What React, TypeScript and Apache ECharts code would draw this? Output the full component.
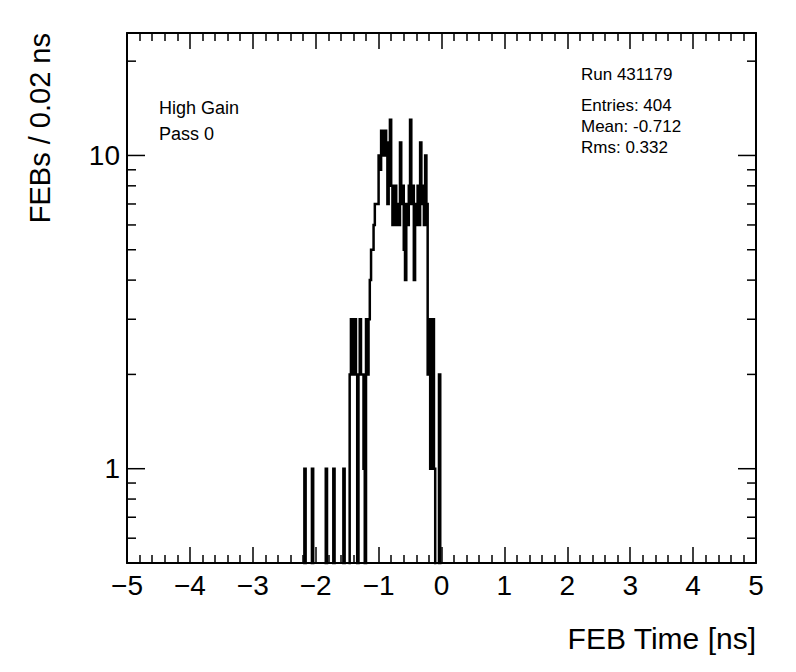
import React, { useEffect, useRef } from 'react';
import * as echarts from 'echarts';

// ---- data ----
const X_MIN = -5;
const X_MAX = 5;
const X_INTERVAL = 1;
const Y_MIN = 0.5;
const Y_MAX = 24.6;
const BIN_WIDTH = 0.02;
const FIRST_BIN_EDGE = -2.2;
// FEB counts per 0.02 ns bin, starting at FIRST_BIN_EDGE
const counts = [
  0, 1, 0, 0, 0, 0, 0, 1, 0, 0,
  0, 0, 0, 0, 0, 0, 0, 0, 1, 0,
  0, 0, 0, 0, 1, 0, 0, 0, 0, 0,
  0, 0, 1, 0, 0, 0, 0,
  2, 3, 3, 2, 3, 2, 0, 2, 3, 2, 2, 1, 0, 3, 2, 3,
  4, 5, 5, 6, 7, 7, 7,
  10, 9, 12, 11, 10, 12, 10, 7, 11, 13,
  8, 6, 7, 8, 6, 7, 6, 11, 7, 8,
  5, 4, 7, 6, 8, 13, 7, 8, 4, 7,
  6, 8, 6, 11, 7, 8, 6, 10, 7,
  2, 3, 1, 3, 3, 1, 0, 0, 0, 2, 0,
];
const yMajorTicks = [1, 10];
const yMinorTicks = [0.6, 0.7, 0.8, 0.9, 2, 3, 4, 5, 6, 7, 8, 9, 20];
const xTitle = 'FEB Time [ns]';
const yTitle = 'FEBs / 0.02 ns';
const infoLines = ['High Gain', 'Pass 0'];
const runLine = 'Run 431179';
const statsLines = ['Entries: 404', 'Mean: -0.712', 'Rms: 0.332'];

const FONT = 'Liberation Sans, Arial, Helvetica, sans-serif';
const ZERO = 0.01; // empty bins drawn below the visible log range

function buildSteps(): number[][] {
  const pts: number[][] = [];
  pts.push([FIRST_BIN_EDGE, ZERO]);
  counts.forEach((c, i) => {
    const xl = +(FIRST_BIN_EDGE + i * BIN_WIDTH).toFixed(4);
    const xr = +(xl + BIN_WIDTH).toFixed(4);
    const v = c > 0 ? c : ZERO;
    pts.push([xl, v], [xr, v]);
  });
  pts.push([+(FIRST_BIN_EDGE + counts.length * BIN_WIDTH).toFixed(4), ZERO]);
  return pts;
}

const xFmt = (v: number) => (v < 0 ? '\u2212' + Math.abs(v) : String(v));
const yFmt = (v: number) => {
  for (const t of yMajorTicks) if (Math.abs(v - t) < 1e-6 * t) return String(t);
  return '';
};

export default function App() {
  const ref = useRef<HTMLDivElement>(null);
  useEffect(() => {
    document.body.style.margin = '0';
    const chart = echarts.init(ref.current!, null, { renderer: 'svg' });
    const tickData = [
      ...yMajorTicks.map((v) => [X_MIN, v, 1]),
      ...yMinorTicks.map((v) => [X_MIN, v, 0]),
    ];
    const xAxisBase = {
      type: 'value',
      min: X_MIN,
      max: X_MAX,
      interval: X_INTERVAL,
      axisLine: { show: true, onZero: false, lineStyle: { color: '#000', width: 2 } },
      axisTick: { show: true, inside: true, length: 16, lineStyle: { color: '#000', width: 1.5 } },
      minorTick: { show: true, splitNumber: 5, length: 8, lineStyle: { color: '#000', width: 1.5 } },
      splitLine: { show: false },
      minorSplitLine: { show: false },
    };
    const option: any = {
      animation: false,
      backgroundColor: '#fff',
      grid: { left: 127, top: 33, width: 629, height: 530, containLabel: false },
      xAxis: [
        {
          ...xAxisBase,
          position: 'bottom',
          axisLabel: { show: true, margin: 8, fontSize: 28, fontFamily: FONT, color: '#000', formatter: xFmt },
        },
        { ...xAxisBase, position: 'top', axisLabel: { show: false } },
      ],
      yAxis: [
        {
          type: 'log',
          logBase: 10,
          min: Y_MIN,
          max: Y_MAX,
          position: 'left',
          axisLine: { show: true, onZero: false, lineStyle: { color: '#000', width: 2 } },
          axisTick: { show: false },
          minorTick: { show: false },
          splitLine: { show: false },
          axisLabel: {
            show: true, margin: 7, fontSize: 28, fontFamily: FONT, color: '#000',
            showMinLabel: false, showMaxLabel: false, formatter: yFmt,
          },
        },
        {
          type: 'log',
          logBase: 10,
          min: Y_MIN,
          max: Y_MAX,
          position: 'right',
          axisLine: { show: true, onZero: false, lineStyle: { color: '#000', width: 2 } },
          axisTick: { show: false },
          minorTick: { show: false },
          splitLine: { show: false },
          axisLabel: { show: false },
        },
      ],
      series: [
        {
          type: 'line',
          xAxisIndex: 0,
          yAxisIndex: 0,
          data: buildSteps(),
          showSymbol: false,
          symbol: 'none',
          clip: true,
          silent: true,
          lineStyle: { color: '#000', width: 2.5, cap: 'butt', join: 'miter' },
        },
        {
          type: 'custom',
          xAxisIndex: 0,
          yAxisIndex: 0,
          silent: true,
          clip: false,
          data: tickData,
          encode: { x: 0, y: 1 },
          renderItem: (_params: any, api: any) => {
            const v = api.value(1);
            const major = api.value(2) === 1;
            const pL = api.coord([X_MIN, v]);
            const pR = api.coord([X_MAX, v]);
            const len = major ? 18 : 9;
            const st = { stroke: '#000', lineWidth: 1.5 };
            return {
              type: 'group',
              children: [
                { type: 'line', shape: { x1: pL[0], y1: pL[1], x2: pL[0] + len, y2: pL[1] }, style: st },
                { type: 'line', shape: { x1: pR[0], y1: pR[1], x2: pR[0] - len, y2: pR[1] }, style: st },
              ],
            };
          },
        },
      ],
      graphic: [
        {
          type: 'text', x: 756, y: 638,
          style: { text: xTitle, align: 'right', verticalAlign: 'middle', fontSize: 30, fontFamily: FONT, fill: '#000' },
        },
        {
          type: 'text', x: 40, y: 33, rotation: Math.PI / 2,
          style: { text: yTitle, align: 'right', verticalAlign: 'middle', fontSize: 29, fontFamily: FONT, fill: '#000' },
        },
        ...infoLines.map((t, i) => ({
          type: 'text', x: 159, y: 108 + i * 26,
          style: { text: t, align: 'left', verticalAlign: 'middle', fontSize: 18, fontFamily: FONT, fill: '#000' },
        })),
        {
          type: 'text', x: 581, y: 74,
          style: { text: runLine, align: 'left', verticalAlign: 'middle', fontSize: 17, fontFamily: FONT, fill: '#000' },
        },
        ...statsLines.map((t, i) => ({
          type: 'text', x: 581, y: 105 + i * 21,
          style: { text: t, align: 'left', verticalAlign: 'middle', fontSize: 17, fontFamily: FONT, fill: '#000' },
        })),
      ],
    };
    chart.setOption(option);
    return () => chart.dispose();
  }, []);
  return <div ref={ref} style={{ width: 796, height: 672 }} />;
}
